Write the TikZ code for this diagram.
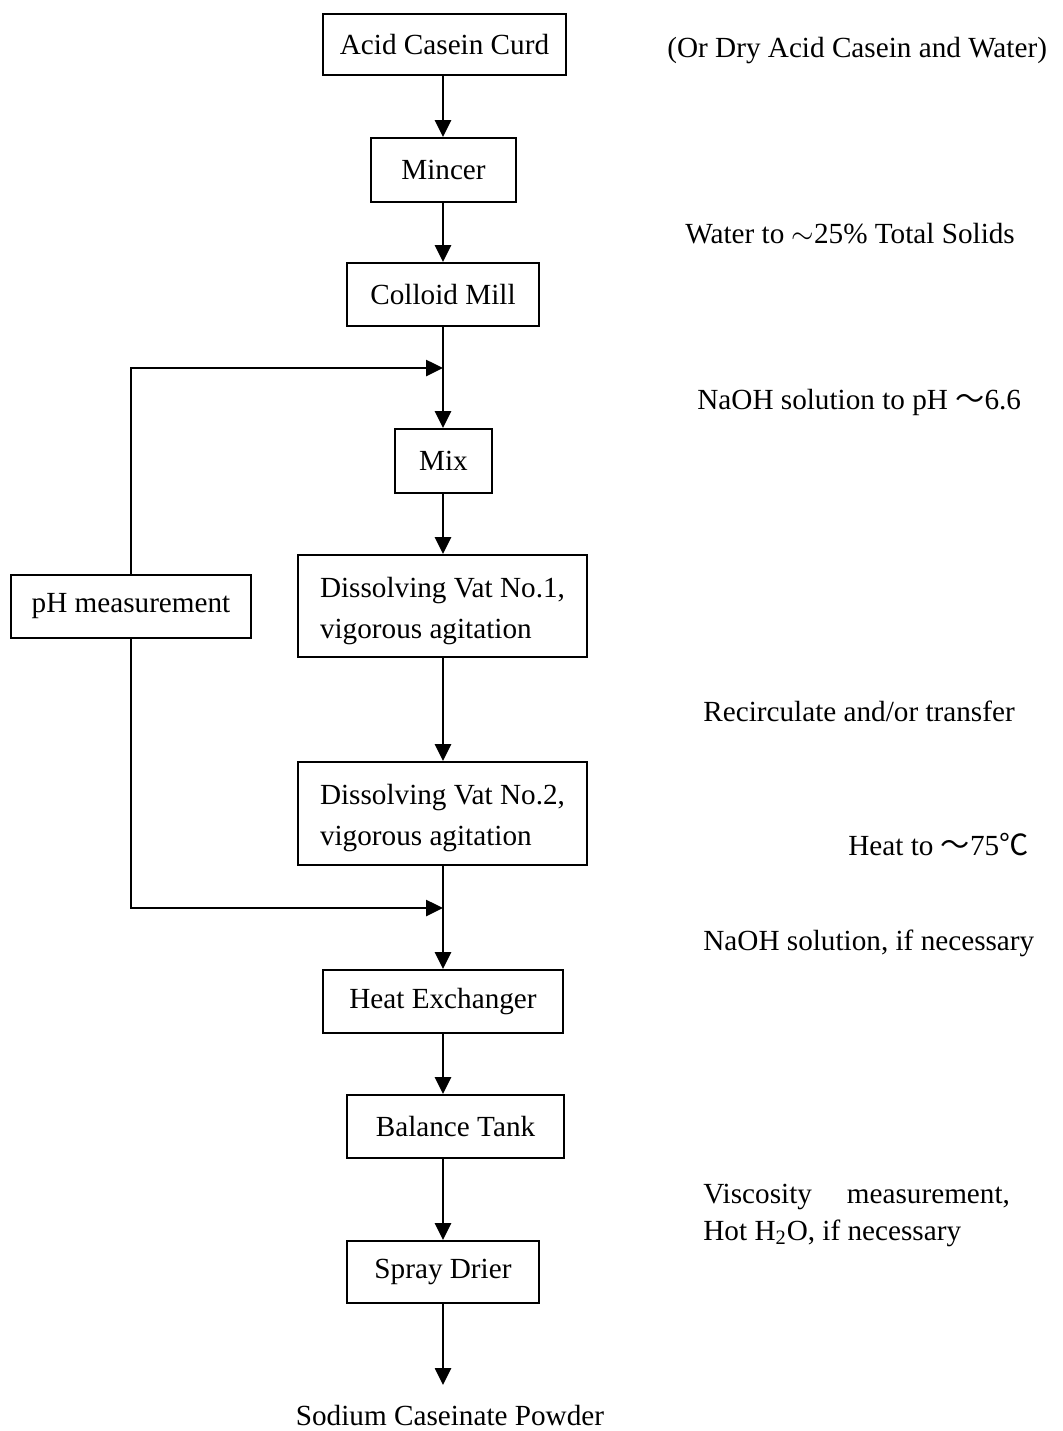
\documentclass[tikz,border=0pt]{standalone}
\usepackage{fontspec}
\setmainfont{Liberation Serif}
\newfontfamily\cjk{Noto Sans CJK SC}
\usetikzlibrary{arrows.meta}
\begin{document}
\begin{tikzpicture}[x=0.5pt,y=-0.5pt,
  font=\fontsize{14.6}{20.5}\selectfont,
  box/.style={draw, line width=0.95pt, inner sep=0pt, align=center},
  flow/.style={-{Triangle[length=8.5pt,width=8pt]}, line width=1.3pt},
  note/.style={anchor=base west, inner sep=0pt, align=left}]
\useasboundingbox (0,0) rectangle (1062,1431);
\fill[white] (0,0) rectangle (1062,1431);
\coordinate (axis) at (443,0);
\node[box, minimum width=121.5pt, minimum height=30.5pt] (acid) at (444.5,44.5) {Acid Casein Curd};
\node[box, minimum width=72.5pt, minimum height=32pt] (mincer) at (443.5,170) {Mincer};
\node[box, minimum width=96pt, minimum height=31.5pt] (colloid) at (443,294.5) {Colloid Mill};
\node[box, minimum width=48.5pt, minimum height=32pt] (mix) at (443.5,461) {Mix};
\node[box, minimum width=144.5pt, minimum height=51pt, align=left] (vat1) at (442.5,606) {\rule{0pt}{15pt}Dissolving Vat No.1,\\vigorous agitation};
\node[box, minimum width=144.5pt, minimum height=51.5pt, align=left] (vat2) at (442.5,813.5) {\rule{0pt}{15pt}Dissolving Vat No.2,\\vigorous agitation};
\node[box, minimum width=120pt, minimum height=31.5pt] (heat) at (443,1001.5) {Heat Exchanger};
\node[box, minimum width=108.5pt, minimum height=31.5pt] (balance) at (455.5,1126.5) {Balance Tank};
\node[box, minimum width=96pt, minimum height=31pt] (spray) at (443,1272) {Spray Drier};
\node[box, minimum width=120pt, minimum height=31.5pt] (ph) at (131,606.5) {pH measurement};
\coordinate (j1) at (443,368);
\coordinate (j2) at (443,908);
\coordinate (out) at (443,1385);
\node[anchor=base, inner sep=0pt] (product) at (450,1425) {Sodium Caseinate Powder};

\draw[flow] (acid.south -| axis) -- (mincer.north -| axis);
\draw[flow] (mincer.south -| axis) -- (colloid.north -| axis);
\draw[flow] (colloid.south -| axis) -- (mix.north -| axis);
\draw[flow] (mix.south -| axis) -- (vat1.north -| axis);
\draw[flow] (vat1.south -| axis) -- (vat2.north -| axis);
\draw[flow] (vat2.south -| axis) -- (heat.north -| axis);
\draw[flow] (heat.south -| axis) -- (balance.north -| axis);
\draw[flow] (balance.south -| axis) -- (spray.north -| axis);
\draw[flow] (spray.south -| axis) -- (out);
\draw[flow] (ph.north) |- (j1);
\draw[flow] (ph.south) |- (j2);

\node[note] (n1) at (667,57) {(Or Dry Acid Casein and Water)};
\node[note] (n2) at (685,243) {Water to $\sim$25\% Total Solids};
\node[note] (n3) at (697,409) {NaOH solution to pH {\cjk ～}6.6};
\node[note] (n4) at (703,721) {Recirculate and/or transfer};
\node[note] (n5) at (848,855) {Heat to {\cjk ～}75{\cjk ℃}};
\node[note] (n6) at (703,950) {NaOH solution, if necessary};
\node[note] (n7) at (703,1203) {Viscosity\hspace{1.2em}measurement,};
\node[note] (n8) at (703,1240) {Hot H\textsubscript{2}O, if necessary};
\end{tikzpicture}
\end{document}
